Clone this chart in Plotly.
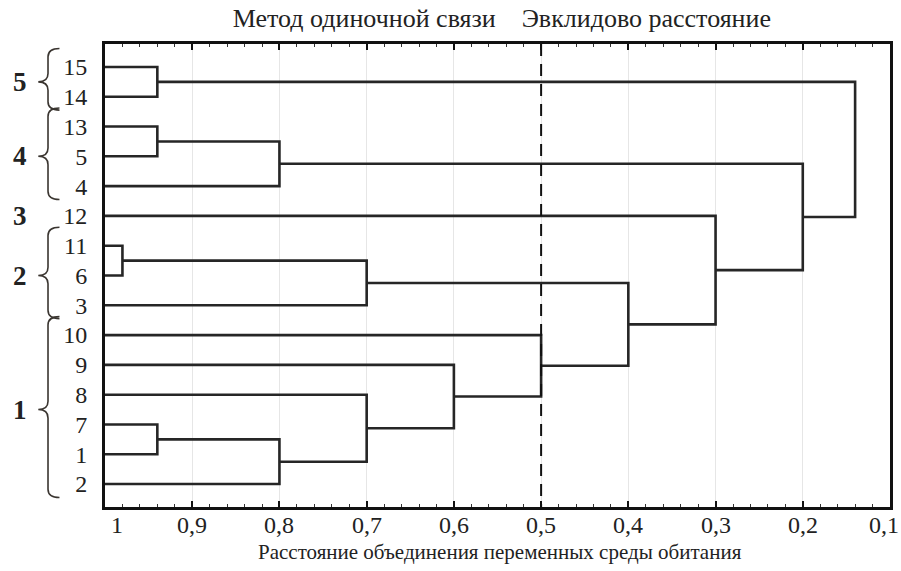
import plotly.graph_objects as go

# ---------------- data ----------------
leaf_order = ["15", "14", "13", "5", "4", "12", "11", "6", "3", "10", "9", "8", "7", "1", "2"]
# merges: (member A, member B, linkage distance); cluster ids are "c1", "c2", ... in order
merge_a = ["15", "13", "c2", "11", "c4", "7", "c6", "8", "9", "10", "c5", "12", "c3", "c1"]
merge_b = ["14", "5", "4", "6", "3", "1", "2", "c7", "c8", "c9", "c10", "c11", "c12", "c13"]
merge_h = [0.94, 0.94, 0.80, 0.98, 0.70, 0.94, 0.80, 0.70, 0.60, 0.50, 0.40, 0.30, 0.20, 0.14]

group_names = ["5", "4", "3", "2", "1"]
group_first = ["15", "13", "12", "11", "10"]
group_last = ["14", "4", "12", "3", "2"]

tick_vals = [1.0, 0.9, 0.8, 0.7, 0.6, 0.5, 0.4, 0.3, 0.2, 0.1]
tick_labels = ["1", "0,9", "0,8", "0,7", "0,6", "0,5", "0,4", "0,3", "0,2", "0,1"]
cut_level = 0.5

title_text = "Метод одиночной связи\u00a0\u00a0\u00a0\u00a0Эвклидово расстояние"
x_title = "Расстояние объединения переменных среды обитания"

# ---------------- build dendrogram coordinates ----------------
nodes = {lab: (i, 1.0) for i, lab in enumerate(leaf_order)}
xs, ys = [], []
for k, (a, b, h) in enumerate(zip(merge_a, merge_b, merge_h), start=1):
    ya, ha = nodes[a]
    yb, hb = nodes[b]
    xs += [ha, h, h, hb, None]
    ys += [ya, ya, yb, yb, None]
    nodes["c%d" % k] = ((ya + yb) / 2.0, h)

FONT = "Liberation Serif"
y_lo, y_hi = -0.77, len(leaf_order) - 1 + 0.77

fig = go.Figure()
fig.add_trace(go.Scatter(x=xs, y=ys, mode="lines",
                         line=dict(color="#262626", width=2.6),
                         hoverinfo="skip", showlegend=False))
fig.add_trace(go.Scatter(x=[cut_level, cut_level], y=[y_lo, y_hi], mode="lines",
                         line=dict(color="#111111", width=2, dash="12px,8px"),
                         hoverinfo="skip", showlegend=False))

# ---------------- braces and group labels ----------------
def to_paper_y(v):
    return (y_hi - v) / (y_hi - y_lo)

xa, xsp, xt = -0.058, -0.0726, -0.085
shapes = []
annotations = []
for name, f, l in zip(group_names, group_first, group_last):
    i0 = leaf_order.index(f)
    i1 = leaf_order.index(l)
    ym = to_paper_y((i0 + i1) / 2.0)
    if i1 > i0:
        yt = to_paper_y(i0 - 0.62)
        yb = to_paper_y(i1 + 0.45)
        r = 0.018
        path = (f"M {xa},{yt} Q {xsp},{yt} {xsp},{yt - r} L {xsp},{ym + r} "
                f"Q {xsp},{ym} {xt},{ym} Q {xsp},{ym} {xsp},{ym - r} "
                f"L {xsp},{yb + r} Q {xsp},{yb} {xa},{yb}")
        shapes.append(dict(type="path", path=path, xref="paper", yref="paper",
                           line=dict(color="#3a3530", width=1.6)))
    annotations.append(dict(text="<b>%s</b>" % name, x=-0.108, y=ym, xref="paper", yref="paper",
                            showarrow=False, xanchor="center", yanchor="middle",
                            font=dict(family=FONT, size=27, color="#222")))

# x tick labels (placed on the x scale) and axis title
for v, t in zip(tick_vals, tick_labels):
    annotations.append(dict(text=t, x=v, y=-0.038, xref="x", yref="paper", showarrow=False,
                            xanchor="center", yanchor="middle",
                            xshift=12 if v == max(tick_vals) else (-6 if v == min(tick_vals) else 0),
                            font=dict(family=FONT, size=24, color="#222")))
annotations.append(dict(text=x_title, x=0.503, y=-0.097, xref="paper", yref="paper", showarrow=False,
                        xanchor="center", yanchor="middle",
                        font=dict(family=FONT, size=21, color="#222")))

fig.update_layout(
    width=901, height=571,
    margin=dict(l=105, r=11, t=44, b=64, autoexpand=False),
    paper_bgcolor="white", plot_bgcolor="white",
    font=dict(family=FONT),
    title=dict(text=title_text, x=0.557, xanchor="center", y=0.968, yanchor="middle",
               font=dict(family=FONT, size=26, color="#222")),
    shapes=shapes, annotations=annotations,
    showlegend=False,
)
fig.update_xaxes(range=[1.0, 0.1], tickvals=tick_vals, showticklabels=False, automargin=False,
                 ticks="inside", ticklen=6, tickwidth=1.5, tickcolor="#111",
                 minor=dict(dtick=0.02, ticks="inside", ticklen=3, tickcolor="#333", tickwidth=1.2,
                            showgrid=False),
                 showline=True, linewidth=3, linecolor="#111", mirror="allticks",
                 showgrid=True, gridcolor="#e6e6e6", gridwidth=1, zeroline=False)
fig.update_yaxes(range=[y_hi, y_lo], tickvals=list(range(len(leaf_order))), ticktext=leaf_order,
                 ticks="", showline=True, linewidth=3, linecolor="#111", mirror=True, automargin=False,
                 showgrid=False, zeroline=False, ticklabelstandoff=10,
                 tickfont=dict(family=FONT, size=24, color="#222"))

fig.write_html("out.html", config={"displayModeBar": False},
               post_script="document.body.style.margin='0';document.body.style.overflow='hidden';")
